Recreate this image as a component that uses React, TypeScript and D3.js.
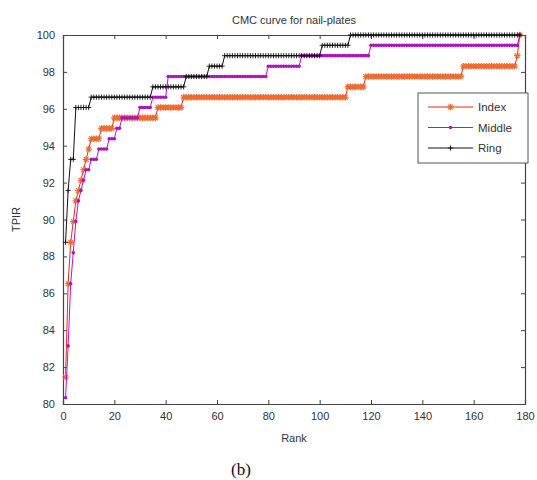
import { useEffect, useRef } from 'react';
import * as d3 from 'd3';

const RANK_MAX = 178;
const xTicks = [0, 20, 40, 60, 80, 100, 120, 140, 160, 180];
const yTicks = [80, 82, 84, 86, 88, 90, 92, 94, 96, 98, 100];

// each finger: rank where a step starts, and the TPIR (%) from there on
const indexStart = [1, 2, 3, 4, 5, 6, 7, 8, 9, 10, 11, 15, 20, 37, 47, 111, 118, 156, 177, 178];
const indexTPIR = [81.46, 86.52, 88.76, 89.89, 91.01, 91.57, 92.13, 92.7, 93.26, 93.82, 94.38, 94.94, 95.51, 96.07, 96.63, 97.19, 97.75, 98.31, 98.88, 100];

const middleStart = [1, 2, 3, 4, 5, 6, 7, 8, 9, 11, 14, 18, 21, 23, 30, 35, 41, 80, 93, 120, 178];
const middleTPIR = [80.34, 83.15, 86.52, 88.2, 89.89, 91.01, 91.57, 92.13, 92.7, 93.26, 93.82, 94.38, 94.94, 95.51, 96.07, 96.63, 97.75, 98.31, 98.88, 99.44, 100];

const ringStart = [1, 2, 3, 5, 11, 35, 48, 57, 63, 101, 112];
const ringTPIR = [88.76, 91.57, 93.26, 96.07, 96.63, 97.19, 97.75, 98.31, 98.88, 99.44, 100];

const fingers = ['Index', 'Middle', 'Ring'];

const SERIES = [
  { name: 'Index', start: indexStart, tpir: indexTPIR, line: '#d8300e', mark: '#f06a30', marker: 'star' },
  { name: 'Middle', start: middleStart, tpir: middleTPIR, line: '#c010c8', mark: '#a818b8', marker: 'dot' },
  { name: 'Ring', start: ringStart, tpir: ringTPIR, line: '#111', mark: '#111', marker: 'plus' },
];

const FONT = '"Liberation Sans", Arial, sans-serif';

// one point per rank, holding the value of the step it falls in
function expand(start: number[], tpir: number[]) {
  const pts: { rank: number; v: number }[] = [];
  let k = 0;
  for (let r = 1; r <= RANK_MAX; r++) {
    while (k + 1 < start.length && start[k + 1] <= r) k++;
    pts.push({ rank: r, v: tpir[k] });
  }
  return pts;
}

function markerPath(type: string) {
  if (type === 'star') {
    const s = 3.3, k = 2.4;
    return `M${-s},0H${s}M0,${-s}V${s}M${-k},${-k}L${k},${k}M${-k},${k}L${k},${-k}`;
  }
  if (type === 'plus') {
    const s = 2.6;
    return `M${-s},0H${s}M0,${-s}V${s}`;
  }
  return '';
}

function drawMarker(g: any, type: string, color: string, x: number, y: number) {
  if (type === 'dot') {
    g.append('circle').attr('cx', x).attr('cy', y).attr('r', 1.8).attr('fill', color);
  } else {
    g.append('path')
      .attr('d', markerPath(type))
      .attr('transform', `translate(${x},${y})`)
      .attr('fill', 'none')
      .attr('stroke', color)
      .attr('stroke-width', type === 'star' ? 1.1 : 0.9);
  }
}

export default function App() {
  const svgRef = useRef<SVGSVGElement>(null);

  useEffect(() => {
    const svg = d3.select(svgRef.current);
    svg.selectAll('*').remove();

    const W = 537, H = 480;
    const margin = { top: 35, right: 12, bottom: 76, left: 63 };
    const width = W - margin.left - margin.right;
    const height = H - margin.top - margin.bottom;

    svg.attr('width', W).attr('height', H).attr('viewBox', `0 0 ${W} ${H}`);
    svg.append('rect').attr('width', W).attr('height', H).attr('fill', '#fff');

    const g = svg.append('g').attr('transform', `translate(${margin.left},${margin.top})`);

    const x = d3.scaleLinear().domain([0, 180]).range([0, width]);
    const y = d3.scaleLinear().domain([80, 100]).range([height, 0]);

    const axisColor = '#444';
    const tickLen = 4;

    // axes with inward ticks on all four sides
    const bottom = g.append('g').attr('transform', `translate(0,${height})`)
      .call(d3.axisBottom(x).tickValues(xTicks).tickSize(-tickLen).tickPadding(8));
    g.append('g').call(d3.axisTop(x).tickValues(xTicks).tickSize(-tickLen).tickFormat(() => ''));
    const left = g.append('g')
      .call(d3.axisLeft(y).tickValues(yTicks).tickSize(-tickLen).tickPadding(8));
    g.append('g').attr('transform', `translate(${width},0)`)
      .call(d3.axisRight(y).tickValues(yTicks).tickSize(-tickLen).tickFormat(() => ''));

    g.selectAll('.domain').attr('stroke', axisColor).attr('stroke-width', 1.2);
    g.selectAll('.tick line').attr('stroke', axisColor);
    [bottom, left].forEach(a => a.selectAll('text')
      .style('font-family', FONT).style('font-size', '11px').attr('fill', '#333'));

    const line = d3.line<{ rank: number; v: number }>()
      .x(d => x(d.rank))
      .y(d => y(d.v));

    SERIES.forEach(s => {
      const pts = expand(s.start, s.tpir);
      const sg = g.append('g');
      sg.append('path')
        .datum(pts)
        .attr('fill', 'none')
        .attr('stroke', s.line)
        .attr('stroke-width', 1)
        .attr('d', line);
      pts.forEach(p => drawMarker(sg, s.marker, s.mark, x(p.rank), y(p.v)));
    });

    // legend
    const lg = g.append('g').attr('transform', `translate(${width - 107},58)`);
    lg.append('rect')
      .attr('width', 110).attr('height', 70)
      .attr('fill', '#fff').attr('stroke', '#555').attr('stroke-width', 1);
    fingers.forEach((f, i) => {
      const s = SERIES.find(d => d.name === f)!;
      const yy = 14 + i * 20.5;
      lg.append('line').attr('x1', 10).attr('x2', 55).attr('y1', yy).attr('y2', yy)
        .attr('stroke', s.line).attr('stroke-width', 1);
      drawMarker(lg, s.marker, s.mark, 32.5, yy);
      lg.append('text').attr('x', 60).attr('y', yy + 4)
        .style('font-family', FONT).style('font-size', '11.5px').attr('fill', '#333')
        .text(f);
    });

    // title and axis labels
    svg.append('text')
      .attr('x', margin.left + width / 2).attr('y', 24)
      .attr('text-anchor', 'middle')
      .style('font-family', FONT).style('font-size', '11px').attr('fill', '#333')
      .text('CMC curve for nail-plates');

    svg.append('text')
      .attr('x', margin.left + width / 2).attr('y', 442)
      .attr('text-anchor', 'middle')
      .style('font-family', FONT).style('font-size', '11px').attr('fill', '#333')
      .text('Rank');

    svg.append('text')
      .attr('transform', `translate(20,${margin.top + height / 2}) rotate(-90)`)
      .attr('text-anchor', 'middle')
      .style('font-family', FONT).style('font-size', '11px').attr('fill', '#333')
      .text('TPIR');

    svg.append('text')
      .attr('x', 241).attr('y', 475)
      .attr('text-anchor', 'middle')
      .style('font-family', '"Liberation Serif", "Times New Roman", serif')
      .style('font-size', '17px').attr('fill', '#111')
      .text('(b)');
  }, []);

  return (
    <svg ref={svgRef} style={{ position: 'absolute', left: 0, top: 0, display: 'block' }}></svg>
  );
}
